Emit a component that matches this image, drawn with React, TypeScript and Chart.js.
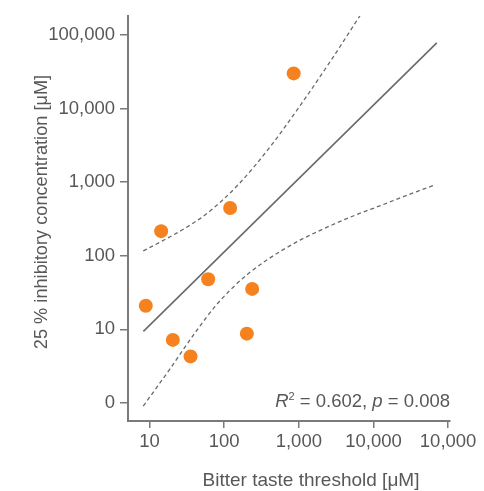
import React, { useEffect, useRef } from "react";
import { Chart, registerables } from "chart.js";

Chart.register(...registerables);

// Bitter taste threshold [µM] (x) and 25 % inhibitory concentration [µM] (y)
const thresholds = [8.9, 14.3, 120, 61, 20.5, 35.4, 237, 201, 853];
const ic25 = [21, 216, 446, 48, 7.2, 4.3, 35.5, 8.75, 30000];

// regression line end points
const fitX = [8.26, 70500];
const fitY = [9.4, 78000];

// confidence band
const upperX = [8.23, 16.08, 29.8, 55.2, 93.3, 152.9, 258.4, 436.4, 594, 1035, 2612, 6798];
const upperY = [116.4, 166.4, 236.6, 357.9, 560.2, 915.8, 1675, 3249, 4944, 10860, 42950, 191300];
const lowerX = [8.23, 18.77, 29.8, 44.5, 75.2, 127, 208, 352, 594, 1035, 1749, 4842, 13400, 38240, 62660];
const lowerY = [0.908, 2.908, 5.745, 10.19, 20.45, 36.1, 56.6, 84.2, 118.2, 162.9, 211.5, 333.3, 494.8, 745.8, 896];

const xTicks = [10, 100, 1000, 10000, 100000];
const xTickLabels = ["10", "100", "1,000", "10,000", "10,000"];
const yTicks = [1, 10, 100, 1000, 10000, 100000];
const yTickLabels = ["0", "10", "100", "1,000", "10,000", "100,000"];

const xTitle = "Bitter taste threshold [μM]";
const yTitle = "25 % inhibitory concentration [μM]";

const FONT = "'Liberation Sans', Arial, sans-serif";
const TEXT = "#585858";
const AXIS = "#7a7a7a";
const ORANGE = "#f5821f";
const LINE = "#6a6a6a";

const pts = (xs: number[], ys: number[]) => xs.map((x, i) => ({ x, y: ys[i] }));

const annotations = {
  id: "annotations",
  afterDraw(chart: any) {
    const ctx = chart.ctx;
    ctx.save();
    ctx.fillStyle = TEXT;
    ctx.textBaseline = "alphabetic";
    // x title
    ctx.font = `19px ${FONT}`;
    ctx.textAlign = "center";
    ctx.fillText(xTitle, 311, 486);
    // y title
    ctx.save();
    ctx.font = `18.2px ${FONT}`;
    ctx.translate(47, 212);
    ctx.rotate(-Math.PI / 2);
    ctx.fillText(yTitle, 0, 0);
    ctx.restore();
    // R² annotation, right aligned
    const parts: [string, string, number][] = [
      ["R", `italic 18.5px ${FONT}`, 0],
      ["2", `11px ${FONT}`, -7],
      [" = 0.602, ", `18.5px ${FONT}`, 0],
      ["p", `italic 18.5px ${FONT}`, 0],
      [" = 0.008", `18.5px ${FONT}`, 0],
    ];
    let total = 0;
    for (const [t, f] of parts) {
      ctx.font = f;
      total += ctx.measureText(t).width;
    }
    let x = 450 - total;
    ctx.textAlign = "left";
    for (const [t, f, dy] of parts) {
      ctx.font = f;
      ctx.fillText(t, x, 407 + dy);
      x += ctx.measureText(t).width;
    }
    ctx.restore();
  },
};

export default function App() {
  const ref = useRef<HTMLCanvasElement | null>(null);
  useEffect(() => {
    if (!ref.current) return;
    const chart = new Chart(ref.current, {
      type: "scatter",
      data: {
        datasets: [
          {
            label: "fit",
            data: pts(fitX, fitY),
            showLine: true,
            borderColor: LINE,
            borderWidth: 1.6,
            pointRadius: 0,
            fill: false,
          },
          {
            label: "upper",
            data: pts(upperX, upperY),
            showLine: true,
            borderColor: LINE,
            borderWidth: 1.3,
            borderDash: [4, 3],
            pointRadius: 0,
            cubicInterpolationMode: "monotone",
            fill: false,
          },
          {
            label: "lower",
            data: pts(lowerX, lowerY),
            showLine: true,
            borderColor: LINE,
            borderWidth: 1.3,
            borderDash: [4, 3],
            pointRadius: 0,
            cubicInterpolationMode: "monotone",
            fill: false,
          },
          {
            label: "compounds",
            data: pts(thresholds, ic25),
            backgroundColor: ORANGE,
            borderWidth: 0,
            pointRadius: 7,
          },
        ],
      },
      options: {
        responsive: false,
        animation: false,
        layout: { padding: { left: 0, right: 34, top: 14, bottom: 0 } },
        plugins: { legend: { display: false }, tooltip: { enabled: false } },
        scales: {
          x: {
            type: "logarithmic",
            min: 5.14,
            max: 106000,
            afterBuildTicks: (s: any) => {
              s.ticks = xTicks.map((v) => ({ value: v }));
            },
            afterFit: (s: any) => {
              s.height = 70;
            },
            ticks: {
              callback: (_v: any, i: number) => xTickLabels[i],
              color: TEXT,
              font: { family: FONT, size: 18.5 },
              padding: 3,
              maxRotation: 0,
              autoSkip: false,
            },
            grid: {
              drawOnChartArea: false,
              drawTicks: true,
              tickLength: 7,
              color: AXIS,
              lineWidth: 1.5,
            },
            border: { display: true, color: AXIS, width: 2 },
          },
          y: {
            type: "logarithmic",
            min: 0.57,
            max: 180000,
            afterBuildTicks: (s: any) => {
              s.ticks = yTicks.map((v) => ({ value: v }));
            },
            afterFit: (s: any) => {
              s.width = 128;
            },
            ticks: {
              callback: (_v: any, i: number) => yTickLabels[i],
              color: TEXT,
              font: { family: FONT, size: 18.5 },
              padding: 5,
              autoSkip: false,
            },
            grid: {
              drawOnChartArea: false,
              drawTicks: true,
              tickLength: 8,
              color: AXIS,
              lineWidth: 1.5,
            },
            border: { display: true, color: AXIS, width: 2 },
          },
        },
      },
      plugins: [annotations],
    });
    return () => chart.destroy();
  }, []);
  return (
    <div style={{ position: "fixed", left: 0, top: 0, width: 484, height: 491, background: "#fff" }}>
      <canvas ref={ref} width={484} height={491} style={{ width: 484, height: 491 }} />
    </div>
  );
}
